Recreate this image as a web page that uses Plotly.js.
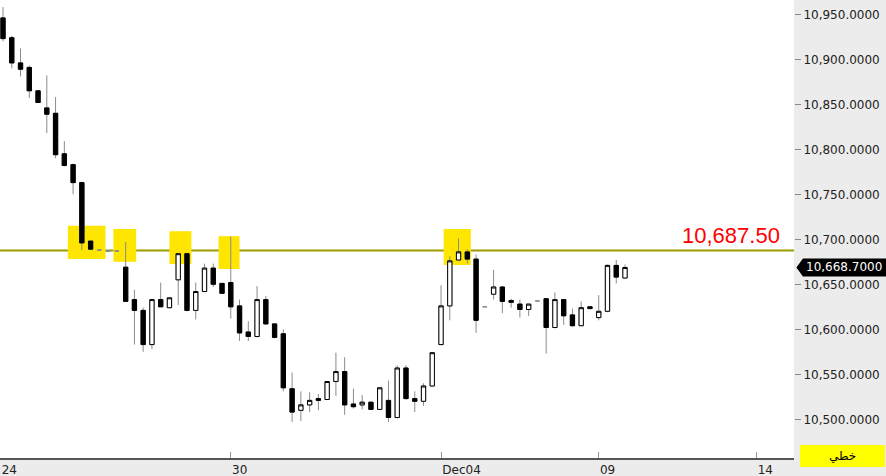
<!DOCTYPE html>
<html>
<head>
<meta charset="utf-8">
<script src="https://cdn.plot.ly/plotly-3.0.1.min.js"></script>
<style>
  html, body { margin: 0; padding: 0; background: #ececec; }
  #chart { width: 886px; height: 476px; }
</style>
</head>
<body>
<div id="chart"></div>
<script>
// 4-hour candles
const opens  = [10946,10924,10896,10891,10865,10846,10840,10795,10783,10763,10698,10688,10687,10687,
                10669,10633,10621,10583,10633,10624,10655,10684,10621,10642,10668,10651,10652,10626,
                10597,10592,10633,10606,10595,10534,10510,10516,10523,10522,10542,10553,10517,10516,
                10519,10511,10521,10502,10557,10523,10520,10537,10583,10626,10677,10686,10678,10625,
                10639,10647,10632,10628,10622,10631.5,10634,10602,10633,10616,10604,10625,10613,10620,
                10671,10657];
const highs  = [10958,10926,10912,10893,10865,10882,10858,10809,10784,10764,10698,10689,10688,10688,
                10697,10644,10624,10634,10652,10635,10685,10685,10652,10673,10673,10651,10703,10633,
                10609,10648,10637,10606,10600,10552,10531,10530,10528,10542,10574,10569,10534,10527,
                10519,10535,10543,10560,10560,10531,10540,10574,10649,10681,10701,10689,10683,10625,
                10666,10648,10634,10633,10628,10631.5,10635,10641,10633,10623,10631,10625,10638,10672,
                10677,10672];
const lows   = [10920,10890,10881,10857,10852,10818,10790,10781,10750,10688,10689,10687,10686,10686,
                10631,10583,10575,10578,10625,10624,10627,10620,10611,10642,10647,10640,10612,10587,
                10587,10591,10605,10590,10531,10497,10498,10508,10510,10522,10526,10505,10512,10511,
                10511,10511,10497,10501,10522,10508,10515,10537,10583,10610,10677,10673,10596,10625,
                10633,10618,10624,10613,10615,10631.5,10573,10601,10605,10603,10604,10623,10610,10619,
                10651,10657];
const closes = [10923,10896,10889,10865,10852,10839,10794,10782,10763,10696,10689,10688,10687,10687,
                10631,10621,10583,10633,10625,10635,10684,10621,10642,10668,10650,10640,10625,10596,
                10592,10633,10606,10591,10535,10508,10516,10521,10521,10542,10553,10516,10514,10519,
                10511,10535,10502,10557,10523,10520,10537,10574,10626,10676,10686,10678,10610,10625,
                10647,10631,10630,10622,10628,10631.5,10602,10633,10615,10604,10624,10623,10620,10671,
                10658,10668.7];

const tickPos   = [-0.3, 26, 50, 68, 86];
const tickLabels = ["24", "30", "Dec04", "09", "14"];

const levelPrice = 10687.5;
const lastPrice  = 10668.7;

const idx = opens.map((_, i) => i);
// body-only copies; dojis (open == close) are left to the grey wick trace
const isDoji = opens.map((o, i) => o === closes[i]);
const bOpen  = opens.map((o, i) => isDoji[i] ? null : o);
const bClose = closes.map((c, i) => isDoji[i] ? null : c);
const bodyTop = opens.map((o, i) => isDoji[i] ? null : Math.max(o, closes[i]));
const bodyBot = opens.map((o, i) => isDoji[i] ? null : Math.min(o, closes[i]));

const fmt = (v, d) => v.toLocaleString("en-US", { minimumFractionDigits: d, maximumFractionDigits: d });

// wicks (grey) drawn first, bodies on top
const wicks = {
  type: "candlestick",
  x: idx, open: opens, high: highs, low: lows, close: closes,
  increasing: { line: { color: "#8a8a8a", width: 1 }, fillcolor: "rgba(0,0,0,0)" },
  decreasing: { line: { color: "#8a8a8a", width: 1 }, fillcolor: "rgba(0,0,0,0)" },
  whiskerwidth: 0,
  hoverinfo: "skip",
  showlegend: false
};

const bodies = {
  type: "candlestick",
  x: idx, open: bOpen, high: bodyTop, low: bodyBot, close: bClose,
  increasing: { line: { color: "#000", width: 1 }, fillcolor: "#fff" },
  decreasing: { line: { color: "#000", width: 1 }, fillcolor: "#000" },
  whiskerwidth: 0,
  showlegend: false
};

const yellow = "#ffe600";
const hl = (x0, x1, y0, y1) => ({
  type: "rect", xref: "x", yref: "y", x0, x1, y0, y1,
  fillcolor: yellow, line: { width: 0 }, layer: "below"
});

const layout = {
  width: 886, height: 476,
  margin: { l: 0, r: 92, t: 0, b: 18 },
  paper_bgcolor: "#ececec",
  plot_bgcolor: "#ffffff",
  showlegend: false,
  font: { family: "DejaVu Sans", size: 12, color: "#222" },
  xaxis: {
    range: [-0.343, 90.29],
    tickvals: tickPos, ticktext: tickLabels,
    ticks: "inside", ticklen: 6, tickcolor: "#999", tickwidth: 1,
    ticklabelposition: "outside right",
    showline: true, linecolor: "#555", linewidth: 1.5,
    showgrid: false, zeroline: false,
    rangeslider: { visible: false },
    tickfont: { family: "DejaVu Sans", size: 12, color: "#222" }
  },
  yaxis: {
    side: "right",
    range: [10457, 10965.9],
    dtick: 50, tick0: 10500,
    tickformat: ",.4f",
    ticks: "outside", ticklen: 6, tickcolor: "#888",
    showgrid: false, zeroline: false, showline: false,
    tickfont: { family: "DejaVu Sans", size: 12, color: "#222" }
  },
  shapes: [
    hl(7.4, 11.7, 10678, 10715),
    hl(12.6, 15.2, 10675, 10711.5),
    hl(19.0, 21.5, 10672.5, 10709),
    hl(24.6, 27.0, 10667, 10703.5),
    hl(50.3, 53.4, 10671.5, 10711.5),
    {
      type: "line", xref: "paper", yref: "y", x0: 0, x1: 1, y0: levelPrice, y1: levelPrice,
      line: { color: "#9c9c00", width: 2 }, layer: "below"
    },
    {
      type: "path", xref: "paper", yref: "y",
      path: `M 1.003,${lastPrice} L 1.0113,${lastPrice + 10} L 1.12,${lastPrice + 10} L 1.12,${lastPrice - 10} L 1.0113,${lastPrice - 10} Z`,
      fillcolor: "#000", line: { width: 0 }
    },
    {
      type: "rect", xref: "paper", yref: "paper",
      x0: 1.0076, x1: 1.1146, y0: -0.0197, y1: 0.0284,
      fillcolor: "#ffff00", line: { width: 0 }
    }
  ],
  annotations: [
    {
      xref: "paper", yref: "y", x: 0.985, y: levelPrice,
      xanchor: "right", yanchor: "bottom", yshift: 1,
      text: fmt(levelPrice, 2), showarrow: false,
      font: { family: "Liberation Sans", size: 22, color: "#ff0000" }
    },
    {
      xref: "paper", yref: "y", x: 1.063, y: lastPrice,
      xanchor: "center", yanchor: "middle",
      text: fmt(lastPrice, 4), showarrow: false,
      font: { family: "DejaVu Sans", size: 12, color: "#ffffff" }
    },
    {
      xref: "paper", yref: "paper", x: 1.061, y: 0.0044,
      xanchor: "center", yanchor: "middle",
      text: "خطي", showarrow: false,
      font: { family: "DejaVu Sans", size: 12, color: "#000" }
    }
  ]
};

Plotly.newPlot("chart", [wicks, bodies], layout, { displayModeBar: false, staticPlot: true });
</script>
</body>
</html>
